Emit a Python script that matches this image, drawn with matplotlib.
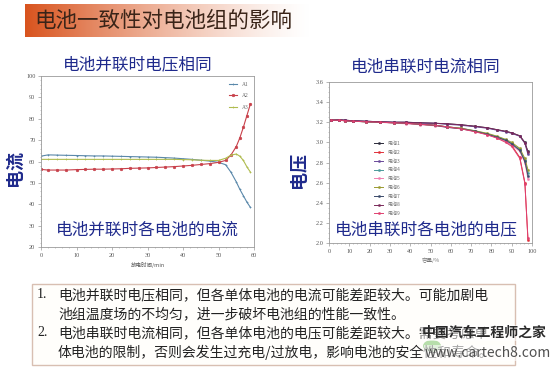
import numpy as np
import matplotlib
matplotlib.use('Agg')
import matplotlib.pyplot as plt
from matplotlib.patches import Rectangle, Circle

plt.rcParams['font.family'] = ['Noto Sans CJK SC', 'DejaVu Sans']

# ---- data: left chart (parallel, current vs time)
t_min = [0, 2, 4.5, 7, 10, 12.5, 15, 17.5, 20, 22.5, 25, 27.5, 30, 32.5, 35,
         37.5, 40, 42.5, 45, 47.5, 50, 52, 53.5, 55, 56, 57, 58, 59]
a1 = [62.5, 63.1, 63.0, 62.9, 62.8, 62.7, 62.6, 62.6, 62.5, 62.4, 62.3, 62.2, 62.1, 62.0,
      61.8, 61.6, 61.3, 61.0, 60.6, 60.2, 59.6, 58.5, 55.0, 50.5, 47.0, 44.0, 41.0, 38.5]
a2 = [56.3, 56.0, 56.0, 56.0, 56.2, 56.3, 56.4, 56.4, 56.5, 56.6, 56.8, 56.9, 57.0, 57.2,
      57.4, 57.6, 57.9, 58.2, 58.6, 59.0, 59.6, 60.5, 63.0, 67.0, 71.0, 76.0, 81.5, 87.0]
a3 = [61.0, 61.0, 61.0, 61.0, 61.0, 61.0, 61.0, 61.0, 61.0, 61.0, 61.0, 61.0, 61.0, 61.0,
      61.0, 61.0, 60.9, 60.8, 60.6, 60.5, 60.5, 61.5, 63.0, 63.5, 62.5, 60.5, 57.5, 55.0]
left_names = ['A1', 'A2', 'A3']

# ---- data: right chart (series, voltage vs capacity)
cap = [1, 5, 8, 12, 18, 25, 32, 38, 45, 52, 58, 65, 72, 78, 83, 87, 90, 94, 96.5, 98]
v1 = [3.22, 3.225, 3.22, 3.215, 3.21, 3.205, 3.20, 3.20, 3.195, 3.19, 3.185, 3.175, 3.16, 3.145, 3.125, 3.11, 3.095, 3.065, 3.00, 2.91]
v2 = [3.22, 3.22, 3.215, 3.21, 3.205, 3.20, 3.195, 3.19, 3.18, 3.17, 3.155, 3.14, 3.11, 3.08, 3.045, 3.01, 2.97, 2.85, 2.60, 2.03]
v3 = [3.22, 3.225, 3.22, 3.215, 3.21, 3.205, 3.20, 3.20, 3.19, 3.19, 3.18, 3.17, 3.155, 3.14, 3.12, 3.105, 3.09, 3.06, 2.99, 2.88]
v4 = [3.22, 3.22, 3.215, 3.21, 3.205, 3.20, 3.195, 3.19, 3.18, 3.17, 3.155, 3.14, 3.115, 3.085, 3.055, 3.025, 2.99, 2.93, 2.82, 2.70]
v5 = [3.22, 3.22, 3.215, 3.21, 3.205, 3.20, 3.19, 3.185, 3.175, 3.165, 3.15, 3.135, 3.11, 3.075, 3.045, 3.01, 2.975, 2.91, 2.80, 2.64]
v6 = [3.22, 3.22, 3.215, 3.21, 3.205, 3.20, 3.195, 3.19, 3.18, 3.17, 3.155, 3.14, 3.115, 3.09, 3.06, 3.03, 3.0, 2.94, 2.84, 2.73]
v7 = [3.22, 3.22, 3.215, 3.21, 3.205, 3.20, 3.195, 3.19, 3.18, 3.17, 3.15, 3.135, 3.11, 3.08, 3.05, 3.02, 2.985, 2.92, 2.81, 2.67]
v8 = [3.22, 3.225, 3.22, 3.215, 3.21, 3.205, 3.20, 3.20, 3.195, 3.19, 3.185, 3.175, 3.16, 3.145, 3.125, 3.11, 3.095, 3.065, 2.995, 2.90]
v9 = [3.22, 3.22, 3.215, 3.21, 3.205, 3.20, 3.195, 3.19, 3.18, 3.17, 3.155, 3.135, 3.105, 3.075, 3.04, 3.0, 2.96, 2.84, 2.59, 2.05]
right_series = [v1, v2, v3, v4, v5, v6, v7, v8, v9]
right_names = ['电池1', '电池2', '电池3', '电池4', '电池5', '电池6', '电池7', '电池8', '电池9']
right_colors = ['#2a2a3a', '#e0303a', '#6a4a9a', '#4a9a9a', '#f080b0',
                '#9a9a30', '#3a4a6a', '#7a2a5a', '#e04070']

# ---- text
title = '电池一致性对电池组的影响'
left_title = '电池并联时电压相同'
right_title = '电池串联时电流相同'
left_note = '电池并联时各电池的电流'
right_note = '电池串联时各电池的电压'
bullets = ['1.', '', '2.', '']
lines = ['电池并联时电压相同，但各单体电池的电流可能差距较大。可能加剧电',
         '池组温度场的不均匀，进一步破坏电池组的性能一致性。',
         '电池串联时电流相同，但各单体电池的电压可能差距较大。需要考虑单',
         '体电池的限制，否则会发生过充电/过放电，影响电池的安全性和寿命。']

blue = '#1f2a8c'
W, H = 554, 369
fig = plt.figure(figsize=(5.54, 3.69), dpi=100)
fig.patch.set_facecolor('white')

def fx(px):
    return px / W

def fy(py):
    return 1 - py / H

# title banner with gradient
bax = fig.add_axes([fx(25), fy(37), fx(285), (37 - 4) / H])
grad = np.linspace(0, 1, 256)
c0 = np.array([0.85, 0.33, 0.12])
c1 = np.array([1.0, 1.0, 1.0])
img = (c0[None, :] * (1 - grad[:, None]) ** 1.3 + c1[None, :] * (1 - (1 - grad[:, None]) ** 1.3))
bax.imshow(img[None, :, :], aspect='auto', extent=[0, 1, 0, 1])
bax.axis('off')
fig.text(fx(34), fy(21), title, fontsize=15.5, color='#3a2418', va='center', ha='left')

def style_axes(ax):
    for s in ax.spines.values():
        s.set_color('#9a9a9a')
        s.set_linewidth(0.6)
    ax.tick_params(axis='both', which='major', direction='out', length=2, width=0.5,
                   colors='#9a9a9a', labelsize=4.5, labelcolor='#555555', pad=2)
    ax.tick_params(axis='both', which='minor', direction='out', length=1, width=0.4, colors='#9a9a9a')
    for lab in ax.get_xticklabels() + ax.get_yticklabels():
        lab.set_fontfamily('Liberation Serif')

# left chart
ax1 = fig.add_axes([fx(41), fy(247), fx(254 - 41), (247 - 76) / H])
left_colors = ['#5a88aa', '#c8404a', '#b0bc50']
for ys, nm, c, mk in zip([a1, a2, a3], left_names, left_colors, ['+', 'o', '+']):
    ax1.plot(t_min, ys, color=c, linewidth=0.8, marker=mk, markersize=1.8,
             markeredgewidth=0.5, label=nm)
ax1.set_xlim(0, 60)
ax1.set_ylim(20, 100)
ax1.set_xticks(np.arange(0, 61, 10))
ax1.set_yticks(np.arange(20, 101, 10))
ax1.minorticks_on()
style_axes(ax1)
leg = ax1.legend(loc='upper right', frameon=False, fontsize=4, handlelength=1.5,
                 labelspacing=1.2, borderaxespad=0.6)
for txt in leg.get_texts():
    txt.set_color('#666666')
    txt.set_fontfamily('Liberation Serif')
ax1.set_xlabel('放电时间/min', fontsize=4, color='#555555', labelpad=3)
ax1.text(0.5, 0.1, left_note, transform=ax1.transAxes, ha='center', va='center',
         fontsize=12, color=blue, fontweight='medium')
fig.text(fx(138), fy(65), left_title, fontsize=12, color=blue, fontweight='medium',
         ha='center', va='center')
fig.text(fx(14), fy(168), '电流', fontsize=13, color=blue, fontweight='bold',
         ha='center', va='center', rotation=90)

# right chart
ax2 = fig.add_axes([fx(329), fy(243), fx(532 - 329), (243 - 82) / H])
for ys, nm, c in zip(right_series, right_names, right_colors):
    ax2.plot(cap, ys, color=c, linewidth=0.7, marker='o', markersize=1.6,
             markeredgewidth=0.3, label=nm)
ax2.set_xlim(0, 100)
ax2.set_ylim(2.0, 3.6)
ax2.set_xticks(np.arange(0, 101, 10))
ax2.set_yticks(np.arange(2.0, 3.61, 0.2))
ax2.set_yticklabels(['%.1f' % v for v in np.arange(2.0, 3.61, 0.2)])
ax2.minorticks_on()
style_axes(ax2)
leg2 = ax2.legend(loc='upper left', bbox_to_anchor=(0.2, 0.66), frameon=False,
                  fontsize=3.6, handlelength=1.8, labelspacing=0.75)
for txt in leg2.get_texts():
    txt.set_color('#777777')
ax2.set_xlabel('容量/%', fontsize=4, color='#777777', labelpad=3)
ax2.text(0.48, 0.08, right_note, transform=ax2.transAxes, ha='center', va='center',
         fontsize=12, color=blue, fontweight='medium')
fig.text(fx(426), fy(67), right_title, fontsize=12, color=blue, fontweight='medium',
         ha='center', va='center')
fig.text(fx(298), fy(170), '电压', fontsize=13, color=blue, fontweight='bold',
         ha='center', va='center', rotation=90)

# text box at bottom
fig.patches.append(Rectangle((fx(32), fy(365)), fx(515 - 32), (365 - 284) / H,
                             transform=fig.transFigure, facecolor='#fffefb',
                             edgecolor='#d8bfb2', linewidth=1.0))
ys_txt = [295, 314, 333, 352]
for b, ln, yy in zip(bullets, lines, ys_txt):
    if b:
        fig.text(fx(37), fy(yy), b, fontsize=10, color='#222222', va='center',
                 fontfamily='Liberation Serif')
    fig.text(fx(58), fy(yy), ln, fontsize=10, color='#222222', va='center')

# watermark (overlaps the last lines, as in the slide)
fig.patches.append(Circle((fx(432), fy(346)), 9 / W, transform=fig.transFigure,
                          facecolor='#7cc46a', edgecolor='none', alpha=0.55))
fig.text(fx(484), fy(333), '中国汽车工程师之家', fontsize=10, color='#2a2a2a', ha='center',
         va='center', fontweight='bold',
         bbox=dict(facecolor='white', edgecolor='none', alpha=0.55, pad=0.5))
fig.text(fx(488), fy(353), 'www.cartech8.com', fontsize=10, color='#505050', ha='center',
         va='center', bbox=dict(facecolor='white', edgecolor='none', alpha=0.6, pad=0.5))

fig.savefig('out.png', dpi=100)
